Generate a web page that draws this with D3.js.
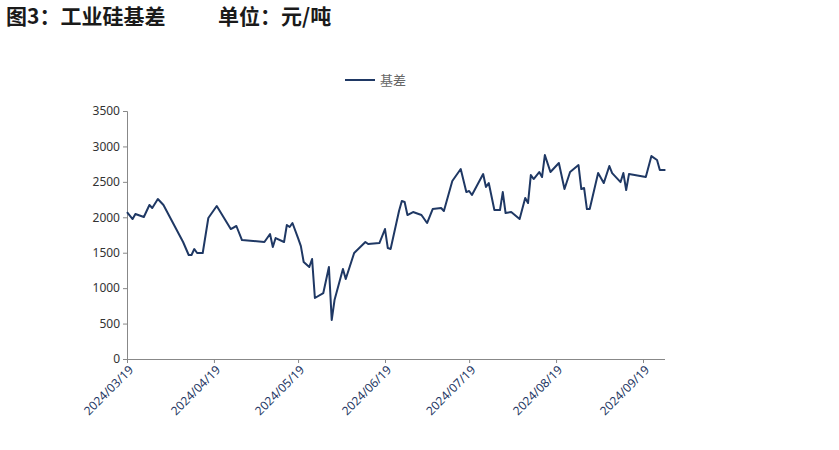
<!DOCTYPE html>
<html><head><meta charset="utf-8">
<script src="https://cdn.jsdelivr.net/npm/d3@7"></script>
<style>body{margin:0;background:#fff;font-family:"Noto Sans CJK SC","Noto Sans",sans-serif}</style>
</head><body><svg id="c" width="839" height="450"></svg>
<script>
const dates=["2024-03-19","2024-03-21","2024-03-22","2024-03-25","2024-03-27","2024-03-28","2024-03-30","2024-04-01","2024-04-08","2024-04-10","2024-04-11","2024-04-12","2024-04-13","2024-04-15","2024-04-17","2024-04-20","2024-04-25","2024-04-27","2024-04-29","2024-05-07","2024-05-09","2024-05-10","2024-05-11","2024-05-14","2024-05-15","2024-05-16","2024-05-17","2024-05-19","2024-05-20","2024-05-21","2024-05-23","2024-05-24","2024-05-25","2024-05-28","2024-05-30","2024-05-31","2024-06-01","2024-06-04","2024-06-05","2024-06-08","2024-06-12","2024-06-13","2024-06-17","2024-06-19","2024-06-20","2024-06-21","2024-06-24","2024-06-25","2024-06-26","2024-06-27","2024-06-29","2024-07-02","2024-07-04","2024-07-06","2024-07-09","2024-07-10","2024-07-13","2024-07-16","2024-07-18","2024-07-19","2024-07-20","2024-07-24","2024-07-25","2024-07-26","2024-07-28","2024-07-30","2024-07-31","2024-08-01","2024-08-03","2024-08-06","2024-08-08","2024-08-09","2024-08-10","2024-08-11","2024-08-13","2024-08-14","2024-08-15","2024-08-17","2024-08-20","2024-08-22","2024-08-24","2024-08-27","2024-08-28","2024-08-29","2024-08-30","2024-08-31","2024-09-03","2024-09-05","2024-09-07","2024-09-08","2024-09-11","2024-09-12","2024-09-13","2024-09-14","2024-09-20","2024-09-22","2024-09-24","2024-09-25","2024-09-27"];
const basis=[2074,1975,2046,2004,2173,2131,2258,2173,1651,1468,1468,1552,1496,1496,1990,2159,1834,1877,1679,1651,1764,1580,1707,1651,1891,1863,1919,1707,1594,1369,1298,1411,861,931,1298,550,832,1270,1129,1496,1651,1623,1637,1834,1566,1552,2088,2229,2215,2032,2074,2032,1919,2116,2131,2088,2512,2681,2356,2371,2314,2610,2427,2483,2102,2102,2356,2060,2074,1975,2272,2201,2596,2540,2639,2568,2878,2639,2766,2399,2639,2737,2399,2413,2116,2116,2624,2483,2723,2624,2497,2624,2385,2610,2568,2864,2808,2667,2667];
const xTicks=["2024/03/19","2024/04/19","2024/05/19","2024/06/19","2024/07/19","2024/08/19","2024/09/19"];
const yTicks=[0,500,1000,1500,2000,2500,3000,3500];
const seriesName="基差";
const titleA="图3：工业硅基差", titleB="单位：元/吨";

const svg=d3.select("#c");
const p=d3.timeParse("%Y-%m-%d"), pt=d3.timeParse("%Y/%m/%d");
const data=dates.map((d,i)=>({d:p(d),v:basis[i]}));
const x=d3.scaleTime().domain([p("2024-03-19"),p("2024-09-19")]).range([127,643]);
const y=d3.scaleLinear().domain([0,3500]).range([359,111]);
const col="#1f3864";
svg.append("text").attr("x",6).attr("y",24).attr("font-size",21).attr("font-weight","bold").attr("fill","#1a1a1a").text(titleA);
svg.append("text").attr("x",218).attr("y",24).attr("font-size",21).attr("font-weight","bold").attr("fill","#1a1a1a").text(titleB);
svg.append("line").attr("x1",345).attr("x2",375).attr("y1",80).attr("y2",80).attr("stroke",col).attr("stroke-width",2);
svg.append("text").attr("x",380).attr("y",85).attr("font-size",13).attr("fill","#666").text(seriesName);
const ya=svg.append("g").attr("transform","translate(127,0)").call(d3.axisLeft(y).tickValues(yTicks).tickSize(4).tickFormat(d3.format("d")));
ya.selectAll("text").attr("font-size",12).attr("fill","#333").attr("font-family","Noto Sans, sans-serif");
const xa=svg.append("g").attr("transform","translate(0,359)").call(d3.axisBottom(x).tickValues(xTicks.map(t=>pt(t))).tickSize(4).tickFormat(d3.timeFormat("%Y/%m/%d")));
xa.selectAll("text").attr("font-size",12).attr("fill","#1f3864").attr("font-family","Noto Sans, sans-serif").attr("text-anchor","end").attr("dx","-0.3em").attr("dy","0.5em").attr("transform","rotate(-45)");
xa.select(".domain").attr("d","M127,0.5H665");
svg.selectAll(".domain,.tick line").attr("stroke","#888");
svg.append("path").datum(data).attr("fill","none").attr("stroke",col).attr("stroke-width",2).attr("stroke-linejoin","round")
 .attr("d",d3.line().x(d=>x(d.d)).y(d=>y(d.v)));
</script></body></html>
